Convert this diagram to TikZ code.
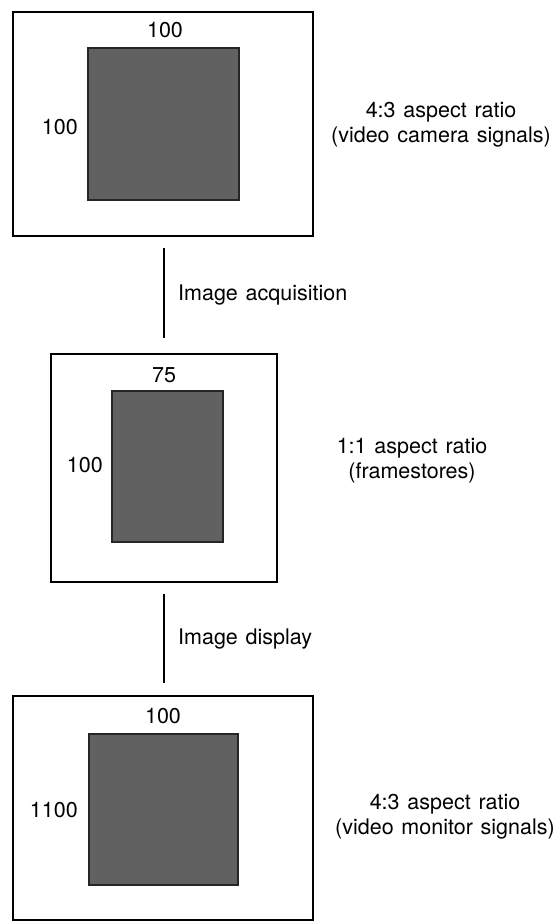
\documentclass[tikz,border=0pt]{standalone}
\usepackage{fontspec}
\setmainfont{TeX Gyre Heros}[WordSpace=1.3]
\begin{document}
\begin{tikzpicture}[x=1pt,y=-1pt,
  frame/.style={draw=black,line width=1.6pt,fill=white,inner sep=0pt},
  picture/.style={draw=black!85,line width=1.6pt,fill=black!62,inner sep=0pt},
  lbl/.style={inner sep=0pt,font=\fontsize{21.5}{25}\selectfont},
  side/.style={inner sep=0pt,align=center,font=\fontsize{21.5}{25}\selectfont},
  link/.style={draw=black,line width=1.8pt}]
\useasboundingbox (0,0) rectangle (559,922);
% top block
\node[frame,minimum width=300pt,minimum height=224pt] (cam) at (163,124) {};
\node[picture,minimum width=151pt,minimum height=152pt] (camimg) at (163.5,124) {};
\node[lbl,anchor=base] (camw) at (165,37) {100};
\node[lbl,anchor=east] (camh) at (78,127) {100};
\node[side] (camtxt) at (441,125) {4:3 aspect ratio\\(video camera signals)};
% middle block
\node[frame,minimum width=226pt,minimum height=228pt] (fs) at (164,468) {};
\node[picture,minimum width=111pt,minimum height=151pt] (fsimg) at (167.5,466.5) {};
\node[lbl,anchor=base] (fsw) at (164,382) {75};
\node[lbl,anchor=east] (fsh) at (103,465) {100};
\node[side] (fstxt) at (412,461) {1:1 aspect ratio\\(framestores)};
% bottom block
\node[frame,minimum width=300pt,minimum height=224pt] (mon) at (163,808) {};
\node[picture,minimum width=149pt,minimum height=151pt] (monimg) at (163.5,809.5) {};
\node[lbl,anchor=base] (monw) at (163,723) {100};
\node[lbl,anchor=east] (monh) at (78,810) {1100};
\node[side] (montxt) at (445,817) {4:3 aspect ratio\\(video monitor signals)};
% connectors
\draw[link,shorten <=11pt,shorten >=15pt] (cam.south -| fs.north) -- coordinate[midway] (m1) (fs.north);
\node[lbl,anchor=west] (acq) at ([xshift=14pt]m1) {Image acquisition};
\draw[link,shorten <=11pt,shorten >=12pt] (fs.south) -- coordinate[midway] (m2) (mon.north -| fs.south);
\node[lbl,anchor=west] (disp) at ([xshift=14pt]m2) {Image display};
\end{tikzpicture}
\end{document}
